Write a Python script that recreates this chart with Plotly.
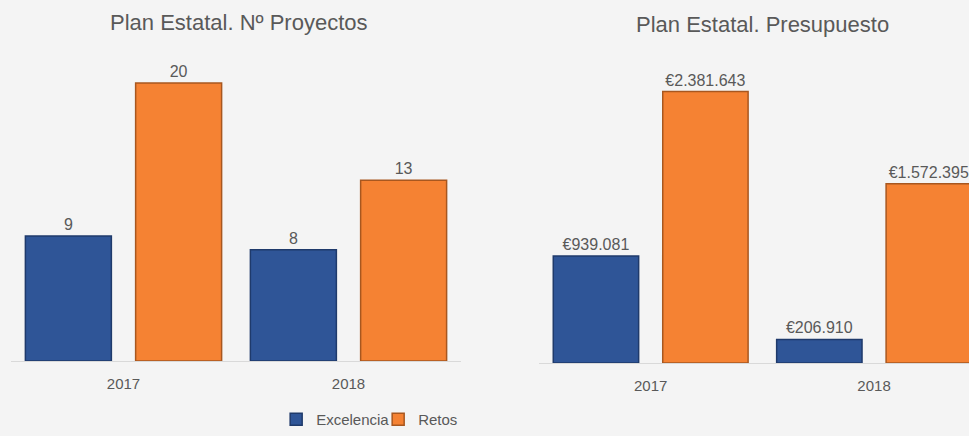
import plotly.graph_objects as go

years = ["2017", "2018"]
proyectos_excelencia = [9, 8]
proyectos_retos = [20, 13]
presupuesto_excelencia = [939081, 206910]
presupuesto_retos = [2381643, 1572395]
series_names = ["Excelencia", "Retos"]

font_name = "Liberation Sans, Arial"
blue = "#2F5597"
orange = "#F58233"
grey_text = "#595959"

fig = go.Figure()

# left chart: number of projects
fig.add_trace(go.Bar(x=years, y=proyectos_excelencia, name=series_names[0],
                     marker=dict(color=blue, line=dict(color="#1F3A6B", width=1.5)),
                     texttemplate="%{y}", textposition="outside",
                     cliponaxis=False, xaxis="x", yaxis="y", legendgroup="exc"))
fig.add_trace(go.Bar(x=years, y=proyectos_retos, name=series_names[1],
                     marker=dict(color=orange, line=dict(color="#A8571F", width=1.5)),
                     texttemplate="%{y}", textposition="outside",
                     cliponaxis=False, xaxis="x", yaxis="y", legendgroup="ret"))

# right chart: budget
fig.add_trace(go.Bar(x=years, y=presupuesto_excelencia, name=series_names[0],
                     marker=dict(color=blue, line=dict(color="#1F3A6B", width=1.5)),
                     texttemplate="€%{y:,.0f}", textposition="outside",
                     cliponaxis=False, xaxis="x2", yaxis="y2", legendgroup="exc",
                     showlegend=False))
fig.add_trace(go.Bar(x=years, y=presupuesto_retos, name=series_names[1],
                     marker=dict(color=orange, line=dict(color="#A8571F", width=1.5)),
                     texttemplate="€%{y:,.0f}", textposition="outside",
                     cliponaxis=False, xaxis="x2", yaxis="y2", legendgroup="ret",
                     showlegend=False))

fig.update_traces(textfont=dict(size=16, color=grey_text, family=font_name))

axis_common = dict(showgrid=False, zeroline=False, showline=True, linecolor="#D9D9D9",
                   linewidth=1, ticks="", tickfont=dict(size=15, color=grey_text, family=font_name),
                   ticklabelstandoff=9, type="category")

fig.update_layout(
    width=969, height=436,
    margin=dict(l=0, r=0, t=0, b=0),
    paper_bgcolor="#F4F4F4",
    plot_bgcolor="#F4F4F4",
    separators=",.",
    barmode="group",
    bargap=0.02,
    bargroupgap=0.22,
    font=dict(family=font_name, size=15, color=grey_text),
    xaxis=dict(domain=[11 / 969, 461 / 969], range=[-0.5, 1.5], anchor="y", **axis_common),
    yaxis=dict(domain=[0.172, 0.9], range=[0, 22.83], visible=False, anchor="x"),
    xaxis2=dict(domain=[539 / 969, 1], range=[-0.5, 1.425], anchor="y2", **axis_common),
    yaxis2=dict(domain=[0.1674, 0.9], range=[0, 2803000], visible=False, anchor="x2"),
    showlegend=True,
    legend=dict(orientation="h", x=0.285, xanchor="left", y=0, yanchor="bottom",
                bgcolor="rgba(0,0,0,0)", font=dict(size=15, color=grey_text, family=font_name),
                itemwidth=30, entrywidth=57, traceorder="normal"),
    annotations=[
        dict(text="Plan Estatal. Nº Proyectos", x=238 / 969, y=(436 - 23) / 436,
             xref="paper", yref="paper", xanchor="center", yanchor="middle", showarrow=False,
             font=dict(size=22, color=grey_text, family=font_name)),
        dict(text="Plan Estatal. Presupuesto", x=762 / 969, y=(436 - 24) / 436,
             xref="paper", yref="paper", xanchor="center", yanchor="middle", showarrow=False,
             font=dict(size=22, color=grey_text, family=font_name)),
    ],
)

fig.write_html("out.html", config={"displayModeBar": False},
               post_script="document.body.style.margin='0';document.body.style.background='#F4F4F4';")
